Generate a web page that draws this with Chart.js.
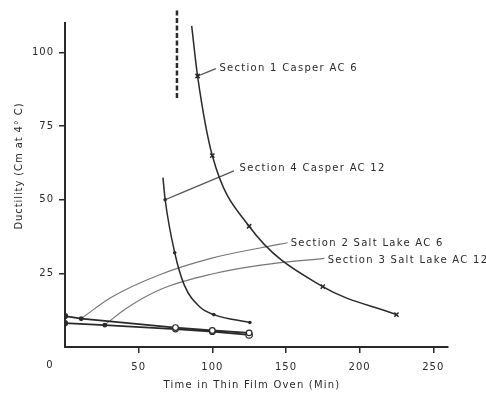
<!DOCTYPE html>
<html>
<head>
<meta charset="utf-8">
<script src="https://cdn.jsdelivr.net/npm/chart.js@4.4.1/dist/chart.umd.min.js"></script>
<style>
  html, body { margin: 0; padding: 0; background: #fff; }
  #wrap { width: 486px; height: 396px; }
</style>
</head>
<body>
<div id="wrap"><canvas id="chart" width="486" height="396"></canvas></div>
<script>
// Axis ticks
const xTicks = [0, 50, 100, 150, 200, 250];
const yTicks = [25, 50, 75, 100];

// Section 1 Casper AC 6 (x marks)
const sec1X = [86, 90, 100, 125, 175, 225];
const sec1Y = [109, 92, 65, 41, 20.5, 11];

// Section 4 Casper AC 12 (dots)
const sec4X = [66.5, 68, 74.5, 81, 92, 101, 125.5];
const sec4Y = [57.5, 50, 32, 21, 13.4, 11, 8.3];

// Section 2 Salt Lake AC 6
const sec2X = [0, 11, 75, 100, 125];
const sec2Y = [10.5, 9.6, 6.6, 5.6, 4.8];

// Section 3 Salt Lake AC 12
const sec3X = [0, 27, 75, 100, 125];
const sec3Y = [8.1, 7.4, 6.1, 5.2, 4.1];

// dashed marker line
const dashX = [76, 76];
const dashY = [84.5, 115];

// leader lines from the labels to the curves
const lead1X = [90, 102.4];
const lead1Y = [92, 94.5];
const lead4X = [68, 114.7];
const lead4Y = [50, 59.8];
const lead2X = [10.9, 31.2, 65.1, 99.1, 133, 151.1];
const lead2Y = [9.6, 16.8, 24.7, 30.1, 33.7, 35.4];
const lead3X = [26.7, 42.5, 65.1, 99.1, 133, 176];
const lead3Y = [7.4, 13.4, 19.6, 24.7, 27.8, 30.1];

// label text and anchor (left, middle) in data units
const labelText = ['Section 1 Casper AC 6', 'Section 4 Casper AC 12', 'Section 2 Salt Lake AC 6', 'Section 3 Salt Lake AC 12'];
const labelX = [104.8, 118.5, 153.2, 178.3];
const labelY = [94.5, 60.6, 35.2, 29.5];

const xTitle = 'Time in Thin Film Oven (Min)';
const yTitle = 'Ductility (Cm at 4° C)';

const ink = '#2a2a2a';
const fontFam = "'DejaVu Sans', sans-serif";

function pts(xs, ys) {
    return xs.map((x, i) => ({ x: x, y: ys[i] }));
}

function leader(xs, ys, color) {
    return {
        data: pts(xs, ys),
        borderColor: color,
        borderWidth: 1.2,
        pointRadius: 0,
        cubicInterpolationMode: 'monotone',
        fill: false
    };
}

const labelsPlugin = {
    id: 'labels',
    beforeLayout(chart) {
        chart.ctx.letterSpacing = '1px';
    },
    beforeDraw(chart) {
        chart.ctx.letterSpacing = '1px';
    },
    afterDraw(chart) {
        const ctx = chart.ctx;
        const xs = chart.scales.x;
        const ys = chart.scales.y;
        ctx.save();
        ctx.fillStyle = ink;
        ctx.font = '10px ' + fontFam;
        ctx.letterSpacing = '1.3px';
        ctx.textBaseline = 'middle';
        ctx.textAlign = 'left';
        labelText.forEach((t, i) => {
            ctx.fillText(t, xs.getPixelForValue(labelX[i]), ys.getPixelForValue(labelY[i]));
        });
        // the "0" of the time axis sits left of the corner
        ctx.letterSpacing = '1px';
        ctx.textAlign = 'center';
        ctx.fillText('0', xs.getPixelForValue(0) - 15, ys.getPixelForValue(0) + 18);

        // axis titles
        ctx.letterSpacing = '1.2px';
        ctx.fillText(xTitle, 252, 385);
        ctx.translate(19, 166);
        ctx.rotate(-Math.PI / 2);
        ctx.letterSpacing = '0.9px';
        ctx.fillText(yTitle, 0, 0);
        ctx.restore();
    }
};

new Chart(document.getElementById('chart'), {
    type: 'line',
    data: {
        datasets: [
            {
                data: pts(sec1X, sec1Y),
                borderColor: ink,
                borderWidth: 1.5,
                cubicInterpolationMode: 'monotone',
                pointStyle: 'crossRot',
                pointRadius: [0, 3, 3, 3, 3, 3],
                pointBorderWidth: 1.5,
                pointBorderColor: ink,
                fill: false
            },
            {
                data: pts(sec4X, sec4Y),
                borderColor: ink,
                borderWidth: 1.5,
                cubicInterpolationMode: 'monotone',
                pointRadius: [0, 1.8, 1.8, 0, 0, 1.8, 1.8],
                pointBackgroundColor: ink,
                pointBorderWidth: 0,
                fill: false
            },
            {
                data: pts(sec2X, sec2Y),
                borderColor: ink,
                borderWidth: 1.8,
                tension: 0,
                pointRadius: [2.5, 1.8, 2.8, 2.8, 2.8],
                pointBackgroundColor: [ink, ink, '#fff', '#fff', '#fff'],
                pointBorderColor: ink,
                pointBorderWidth: 1.2,
                fill: false
            },
            {
                data: pts(sec3X, sec3Y),
                borderColor: ink,
                borderWidth: 1.8,
                tension: 0,
                pointRadius: [2.5, 1.8, 2.8, 2.8, 3.2],
                pointBackgroundColor: [ink, ink, '#fff', '#fff', '#fff'],
                pointBorderColor: ink,
                pointBorderWidth: 1.2,
                fill: false
            },
            {
                data: pts(dashX, dashY),
                borderColor: ink,
                borderWidth: 2.5,
                borderDash: [5, 2.5],
                pointRadius: 0,
                clip: false,
                fill: false
            },
            leader(lead1X, lead1Y, '#555'),
            leader(lead4X, lead4Y, '#555'),
            leader(lead2X, lead2Y, '#777'),
            leader(lead3X, lead3Y, '#777')
        ]
    },
    options: {
        responsive: false,
        animation: false,
        events: [],
        layout: { padding: { left: 0, right: 38, top: 23, bottom: 0 } },
        plugins: {
            legend: { display: false },
            tooltip: { enabled: false }
        },
        scales: {
            x: {
                type: 'linear',
                min: 0,
                max: 260,
                afterBuildTicks(scale) {
                    scale.ticks = xTicks.map(v => ({ value: v }));
                },
                afterFit(scale) { scale.height = 49; },
                ticks: {
                    color: ink,
                    padding: 8,
                    maxRotation: 0,
                    font: { family: fontFam, size: 10 },
                    callback: v => (v === 0 ? '' : String(v))
                },
                grid: {
                    drawOnChartArea: false,
                    drawTicks: true,
                    tickLength: 6,
                    lineWidth: 1.5,
                    color: ctx => (ctx.tick && ctx.tick.value === 0 ? 'rgba(0,0,0,0)' : ink)
                },
                border: { display: true, color: ink, width: 2 },
                title: { display: false }
            },
            y: {
                type: 'linear',
                min: 0,
                max: 110,
                afterBuildTicks(scale) {
                    scale.ticks = yTicks.map(v => ({ value: v }));
                },
                afterFit(scale) { scale.width = 65; },
                ticks: {
                    color: ink,
                    padding: 5,
                    font: { family: fontFam, size: 10 }
                },
                grid: {
                    drawOnChartArea: false,
                    drawTicks: true,
                    tickLength: 6,
                    lineWidth: 1.5,
                    color: ink
                },
                border: { display: true, color: ink, width: 2 },
                title: { display: false }
            }
        }
    },
    plugins: [labelsPlugin]
});
</script>
</body>
</html>
